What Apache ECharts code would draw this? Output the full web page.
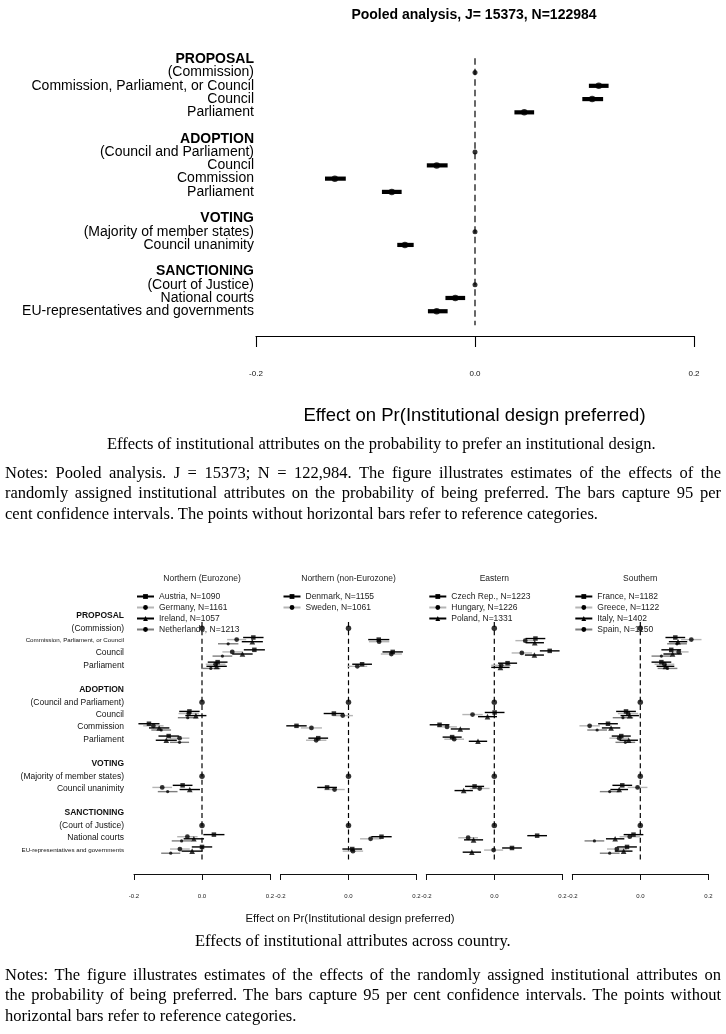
<!DOCTYPE html>
<html>
<head>
<meta charset="utf-8">
<script src="https://cdn.jsdelivr.net/npm/echarts@6/dist/echarts.min.js"></script>
<style>
html,body{margin:0;padding:0;background:#fff;}
#chart{position:absolute;left:0;top:0;width:726px;height:1034px;}
.txt{position:absolute;font-family:"Liberation Serif","Times New Roman",serif;font-size:16.5px;line-height:20.5px;color:#000;white-space:nowrap;}
.line{display:block;width:716px;}
.just{text-align:justify;text-align-last:justify;}
</style>
</head>
<body>
<div id="chart"></div>
<div class="txt" style="left:107px;top:433.5px;">Effects of institutional attributes on the probability to prefer an institutional design.</div>
<div class="txt" style="left:5px;top:462.5px;">
<span class="line just">Notes: Pooled analysis. J = 15373; N = 122,984. The figure illustrates estimates of the effects of the</span>
<span class="line just">randomly assigned institutional attributes on the probability of being preferred. The bars capture 95 per</span>
<span class="line">cent confidence intervals. The points without horizontal bars refer to reference categories.</span>
</div>
<div class="txt" style="left:195px;top:930.5px;">Effects of institutional attributes across country.</div>
<div class="txt" style="left:5px;top:964.5px;">
<span class="line just">Notes: The figure illustrates estimates of the effects of the randomly assigned institutional attributes on</span>
<span class="line just">the probability of being preferred. The bars capture 95 per cent confidence intervals. The points without</span>
<span class="line">horizontal bars refer to reference categories.</span>
</div>
<script>
// ---------------- DATA ----------------
const rowLabels = [
  'PROPOSAL', '(Commission)', 'Commission, Parliament, or Council', 'Council', 'Parliament', '',
  'ADOPTION', '(Council and Parliament)', 'Council', 'Commission', 'Parliament', '',
  'VOTING', '(Majority of member states)', 'Council unanimity', '',
  'SANCTIONING', '(Court of Justice)', 'National courts', 'EU-representatives and governments'
];
const headerRows = [0, 6, 12, 16];
const refRows = [1, 7, 13, 17];
const estRows = [2, 3, 4, 8, 9, 10, 14, 18, 19];
const xTickValues = [-0.2, 0.0, 0.2];

const pooledTitle = 'Pooled analysis, J= 15373, N=122984';
const axisTitle = 'Effect on Pr(Institutional design preferred)';
const pooledEst  = [0.113, 0.107, 0.045, -0.035, -0.128, -0.076, -0.064, -0.018, -0.035];
const pooledLow  = [0.104, 0.098, 0.036, -0.044, -0.137, -0.085, -0.071, -0.027, -0.043];
const pooledHigh = [0.122, 0.117, 0.054, -0.025, -0.118, -0.067, -0.056, -0.009, -0.025];

const panelTitles = ['Northern (Eurozone)', 'Northern (non-Eurozone)', 'Eastern', 'Southern'];
const panelCountries = [
  ['Austria, N=1090', 'Germany, N=1161', 'Ireland, N=1057', 'Netherlands, N=1213'],
  ['Denmark, N=1155', 'Sweden, N=1061'],
  ['Czech Rep., N=1223', 'Hungary, N=1226', 'Poland, N=1331'],
  ['France, N=1182', 'Greece, N=1122', 'Italy, N=1402', 'Spain, N=1150']
];
// estimates, in estRows order
const austriaEst     = [0.151, 0.154, 0.046, -0.037, -0.156, -0.098, -0.057, 0.035, 0.000];
const germanyEst     = [0.102, 0.089, 0.040, -0.039, -0.143, -0.066, -0.117, -0.043, -0.065];
const irelandEst     = [0.148, 0.119, 0.043, -0.018, -0.126, -0.105, -0.036, -0.024, -0.029];
const netherlandsEst = [0.077, 0.060, 0.026, -0.042, -0.120, -0.066, -0.101, -0.060, -0.092];
const denmarkEst     = [0.089, 0.130, 0.040, -0.043, -0.153, -0.089, -0.063, 0.097, 0.011];
const swedenEst      = [0.090, 0.126, 0.026, -0.017, -0.109, -0.095, -0.041, 0.065, 0.013];
const czechEst       = [0.121, 0.163, 0.039, 0.001, -0.161, -0.124, -0.058, 0.126, 0.052];
const hungaryEst     = [0.091, 0.081, 0.020, -0.064, -0.139, -0.118, -0.043, -0.077, -0.002];
const polandEst      = [0.119, 0.118, 0.018, -0.020, -0.100, -0.048, -0.090, -0.061, -0.066];
const franceEst      = [0.103, 0.091, 0.062, -0.042, -0.095, -0.056, -0.053, -0.020, -0.039];
const greeceEst      = [0.150, 0.113, 0.071, -0.036, -0.149, -0.062, -0.008, -0.031, -0.069];
const italyEst       = [0.111, 0.095, 0.074, -0.031, -0.086, -0.034, -0.062, -0.074, -0.049];
const spainEst       = [0.108, 0.062, 0.080, -0.051, -0.127, -0.044, -0.090, -0.135, -0.090];
// 95% CI half-widths, in estRows order
const austriaCI      = [0.030, 0.031, 0.029, 0.030, 0.031, 0.030, 0.029, 0.031, 0.030];
const germanyCI      = [0.028, 0.029, 0.029, 0.030, 0.030, 0.029, 0.029, 0.030, 0.029];
const irelandCI      = [0.031, 0.030, 0.030, 0.031, 0.030, 0.031, 0.030, 0.030, 0.031];
const netherlandsCI  = [0.030, 0.029, 0.028, 0.029, 0.029, 0.028, 0.029, 0.029, 0.028];
const denmarkCI      = [0.031, 0.030, 0.029, 0.030, 0.030, 0.029, 0.029, 0.030, 0.029];
const swedenCI       = [0.030, 0.031, 0.029, 0.030, 0.031, 0.030, 0.030, 0.031, 0.030];
const czechCI        = [0.029, 0.029, 0.028, 0.029, 0.029, 0.028, 0.028, 0.029, 0.029];
const hungaryCI      = [0.029, 0.030, 0.029, 0.030, 0.029, 0.029, 0.029, 0.029, 0.028];
const polandCI       = [0.027, 0.028, 0.027, 0.028, 0.028, 0.027, 0.027, 0.028, 0.027];
const franceCI       = [0.029, 0.029, 0.029, 0.029, 0.029, 0.028, 0.029, 0.029, 0.029];
const greeceCI       = [0.030, 0.029, 0.029, 0.030, 0.030, 0.029, 0.029, 0.030, 0.029];
const italyCI        = [0.027, 0.027, 0.026, 0.027, 0.027, 0.027, 0.026, 0.027, 0.026];
const spainCI        = [0.029, 0.029, 0.029, 0.030, 0.029, 0.029, 0.029, 0.029, 0.029];

const panelEst = [
  [austriaEst, germanyEst, irelandEst, netherlandsEst],
  [denmarkEst, swedenEst],
  [czechEst, hungaryEst, polandEst],
  [franceEst, greeceEst, italyEst, spainEst]
];
const panelCI = [
  [austriaCI, germanyCI, irelandCI, netherlandsCI],
  [denmarkCI, swedenCI],
  [czechCI, hungaryCI, polandCI],
  [franceCI, greeceCI, italyCI, spainCI]
];

// ---------------- STYLE / LAYOUT ----------------
const SANS = '"Liberation Sans", Arial, Helvetica, sans-serif';
const symbolByIndex = ['rect', 'circle', 'triangle', 'circle'];
const symbolSizeByIndex = [4.5, 4.8, 5.6, 3.2];
const ciColorByIndex = ['#000000', '#b5b5b5', '#000000', '#7d7d7d'];

// top panel
const T = {row0: 59.3, rowH: 13.26, axisY: 336, left: 256, right: 694};
T.min = -1; T.max = (T.axisY - T.row0) / T.rowH;
// bottom panels
const B = {row0: 616, rowH: 12.32, axisY: 874, lefts: [134, 280.5, 426.3, 572.3], width: 136};
B.min = -1; B.max = (B.axisY - B.row0) / B.rowH;

function fmtTick(v) { return (Math.abs(v) < 1e-9 ? 0 : v).toFixed(1); }

function labelFormatter(small) {
  return function (v) {
    if (Math.abs(v - Math.round(v)) > 1e-6) return '';
    const i = Math.round(v);
    if (i < 0 || i >= rowLabels.length || !rowLabels[i]) return '';
    const t = rowLabels[i];
    if (headerRows.includes(i)) return '{h|' + t + '}';
    if (small && (i === 2 || i === 19)) return '{s|' + t + '}';
    return '{n|' + t + '}';
  };
}

const grids = [], xAxes = [], yAxes = [], series = [], legends = [], graphics = [];

// ---- top grid
grids.push({left: T.left, width: T.right - T.left, top: T.row0 + T.min * T.rowH,
  height: (T.max - T.min) * T.rowH, containLabel: false, outerBoundsMode: 'none'});
xAxes.push({gridIndex: 0, type: 'value', position: 'bottom', min: xTickValues[0], max: xTickValues[2], interval: 0.2,
  axisLine: {show: true, onZero: false, lineStyle: {color: '#000', width: 1.1}},
  axisTick: {show: true, length: 11, lineStyle: {color: '#000', width: 1.1}},
  axisLabel: {show: true, margin: 34, fontSize: 8, fontFamily: SANS, color: '#111', formatter: fmtTick},
  splitLine: {show: false}});
yAxes.push({gridIndex: 0, type: 'value', inverse: true, min: T.min, max: T.max, interval: 1,
  axisLine: {show: false, onZero: false}, axisTick: {show: false}, splitLine: {show: false},
  axisLabel: {show: true, margin: 2, formatter: labelFormatter(false), align: 'right',
    rich: {h: {fontSize: 14, fontWeight: 'bold', fontFamily: SANS, color: '#000', lineHeight: 14},
           n: {fontSize: 14, fontFamily: SANS, color: '#000', lineHeight: 14}}}});

series.push({type: 'line', xAxisIndex: 0, yAxisIndex: 0, data: [[0, -0.08], [0, 20.06]],
  symbol: 'none', silent: true, lineStyle: {color: '#000', width: 1.2, type: [6.5, 4]}, z: 1});
series.push({type: 'custom', name: 'pooled-ci', xAxisIndex: 0, yAxisIndex: 0,
  data: estRows.map((r, i) => [pooledLow[i], pooledHigh[i], r]),
  encode: {x: [0, 1], y: 2}, silent: true, z: 2,
  renderItem: function (params, api) {
    const y = api.value(2);
    const a = api.coord([api.value(0), y]), b = api.coord([api.value(1), y]);
    return {type: 'line', shape: {x1: a[0], y1: a[1], x2: b[0], y2: b[1]},
      style: {stroke: '#000', lineWidth: 4.2, lineCap: 'butt'}};
  }});
series.push({type: 'scatter', name: 'pooled', xAxisIndex: 0, yAxisIndex: 0,
  data: estRows.map((r, i) => [pooledEst[i], r]), symbol: 'circle', symbolSize: 6.5,
  itemStyle: {color: '#000'}, silent: true, z: 3});
series.push({type: 'scatter', name: 'pooled-ref', xAxisIndex: 0, yAxisIndex: 0,
  data: refRows.map(r => [0, r]), symbol: 'circle', symbolSize: 5,
  itemStyle: {color: '#000'}, silent: true, z: 3});

graphics.push({type: 'text', x: 474, y: 15, style: {text: pooledTitle, align: 'center', verticalAlign: 'middle',
  font: 'bold 14px ' + SANS, fill: '#000'}});
graphics.push({type: 'text', x: 474.5, y: 416, style: {text: axisTitle, align: 'center', verticalAlign: 'middle',
  font: '18.5px ' + SANS, fill: '#000'}});

// ---- bottom panels
for (let p = 0; p < 4; p++) {
  const gi = p + 1;
  grids.push({left: B.lefts[p], width: B.width, top: B.row0 + B.min * B.rowH,
    height: (B.max - B.min) * B.rowH, containLabel: false, outerBoundsMode: 'none'});
  xAxes.push({gridIndex: gi, type: 'value', position: 'bottom', min: xTickValues[0], max: xTickValues[2], interval: 0.2,
    axisLine: {show: true, onZero: false, lineStyle: {color: '#111', width: 1}},
    axisTick: {show: true, length: 6, lineStyle: {color: '#111', width: 1}},
    axisLabel: {show: true, margin: 19, fontSize: 6, fontFamily: SANS, color: '#222', formatter: fmtTick},
    splitLine: {show: false}});
  yAxes.push({gridIndex: gi, type: 'value', inverse: true, min: B.min, max: B.max, interval: 1,
    axisLine: {show: false, onZero: false}, axisTick: {show: false}, splitLine: {show: false},
    axisLabel: p === 0 ? {show: true, margin: 10, formatter: labelFormatter(true), align: 'right',
      rich: {h: {fontSize: 8.5, fontWeight: 'bold', fontFamily: SANS, color: '#111', lineHeight: 9},
             n: {fontSize: 8.5, fontFamily: SANS, color: '#111', lineHeight: 9},
             s: {fontSize: 6.2, fontFamily: SANS, color: '#111', lineHeight: 7}}} : {show: false}});

  series.push({type: 'line', xAxisIndex: gi, yAxisIndex: gi, data: [[0, 0.49], [0, 19.97]],
    symbol: 'none', silent: true, lineStyle: {color: '#000', width: 1.2, type: [5, 3.3]}, z: 1});

  const names = panelCountries[p];
  const n = names.length;
  names.forEach((name, i) => {
    const off = (i - (n - 1) / 2) * 0.17;
    const est = panelEst[p][i], ci = panelCI[p][i];
    const col = ciColorByIndex[i];
    series.push({type: 'custom', name: name + ' CI', xAxisIndex: gi, yAxisIndex: gi,
      data: estRows.map((r, k) => [est[k] - ci[k], est[k] + ci[k], r + off]),
      encode: {x: [0, 1], y: 2}, silent: true, z: 2,
      renderItem: function (params, api) {
        const y = api.value(2);
        const a = api.coord([api.value(0), y]), b = api.coord([api.value(1), y]);
        return {type: 'line', shape: {x1: a[0], y1: a[1], x2: b[0], y2: b[1]},
          style: {stroke: col, lineWidth: 1.4, lineCap: 'butt'}};
      }});
    series.push({type: 'scatter', name: name + ' est', xAxisIndex: gi, yAxisIndex: gi,
      data: estRows.map((r, k) => [est[k], r + off]),
      symbol: symbolByIndex[i], symbolSize: symbolSizeByIndex[i],
      itemStyle: {color: '#000'}, silent: true, z: 3});
    // legend carrier (line + symbol icon)
    series.push({type: 'line', name: name, xAxisIndex: gi, yAxisIndex: gi, data: [],
      symbol: symbolByIndex[i], symbolSize: symbolSizeByIndex[i],
      lineStyle: {color: col, width: 2}, itemStyle: {color: '#000'}});
  });
  series.push({type: 'scatter', name: 'ref ' + p, xAxisIndex: gi, yAxisIndex: gi,
    data: refRows.map(r => [0, r]), symbol: 'circle', symbolSize: 5.5,
    itemStyle: {color: '#000'}, silent: true, z: 3});

  legends.push({show: true, orient: 'vertical', left: B.lefts[p] + 2, top: 592, padding: 0,
    itemWidth: 17, itemHeight: 6, itemGap: 2, selectedMode: false,
    textStyle: {fontSize: 8.5, lineHeight: 8, fontFamily: SANS, color: '#222'},
    data: names.map((name, i) => ({name: name,
      lineStyle: {color: ciColorByIndex[i], width: 2, opacity: 1},
      itemStyle: {color: '#000', opacity: 1}}))});

  const zeroX = B.lefts[p] + B.width / 2;
  graphics.push({type: 'text', x: zeroX, y: 579, style: {text: panelTitles[p], align: 'center',
    verticalAlign: 'middle', font: '8.5px ' + SANS, fill: '#222'}});
}
graphics.push({type: 'text', x: 350, y: 919, style: {text: axisTitle, align: 'center', verticalAlign: 'middle',
  font: '11.3px ' + SANS, fill: '#111'}});

const chart = echarts.init(document.getElementById('chart'), null, {renderer: 'canvas', width: 726, height: 1034});
chart.setOption({
  animation: false,
  backgroundColor: '#fff',
  grid: grids, xAxis: xAxes, yAxis: yAxes, series: series, legend: legends, graphic: graphics
});
</script>
</body>
</html>
